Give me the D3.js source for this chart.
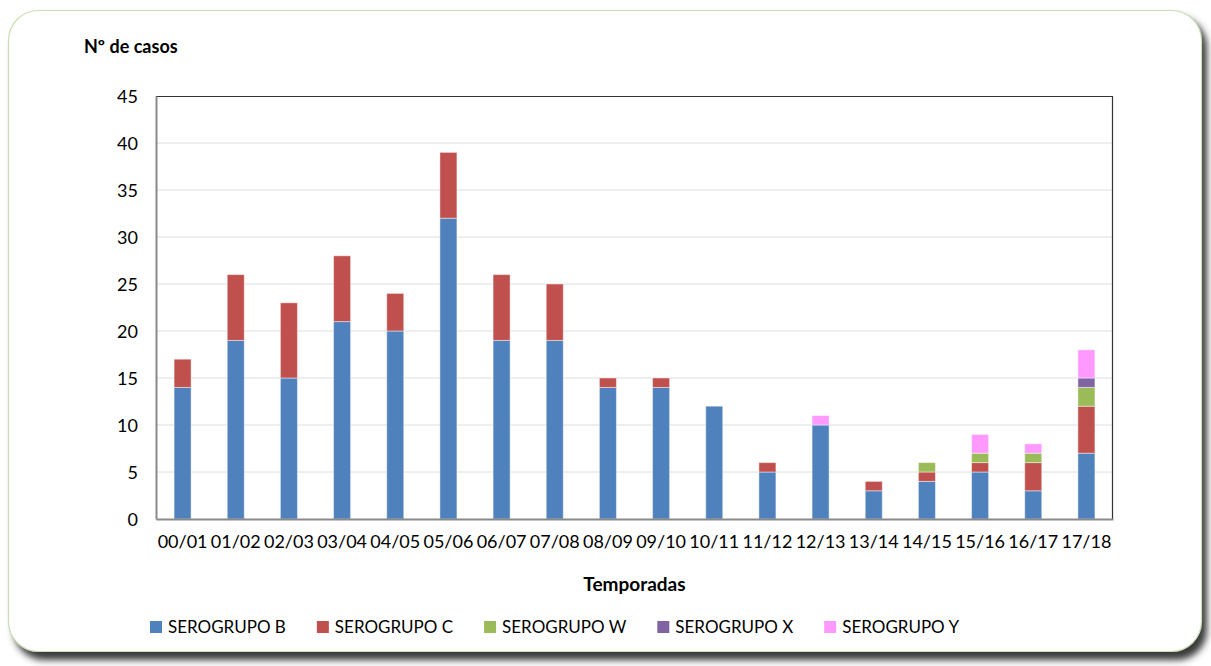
<!DOCTYPE html>
<html>
<head>
<meta charset="utf-8">
<script src="https://cdn.jsdelivr.net/npm/d3@7"></script>
<style>
  html, body { margin: 0; padding: 0; background: #fff; }
  svg { display: block; font-family: Lato, "Open Sans", sans-serif; }
  .grid line { stroke: #dedede; stroke-width: 1; }
  .axis text { fill: #000; font-size: 18px; font-family: Lato, "Open Sans", sans-serif; }
</style>
</head>
<body>
<svg id="chart" width="1211" height="666"></svg>
<script>
// seasons on the x axis
const seasons = ["00/01", "01/02", "02/03", "03/04", "04/05", "05/06", "06/07", "07/08", "08/09",
  "09/10", "10/11", "11/12", "12/13", "13/14", "14/15", "15/16", "16/17", "17/18"];

// cases per serogroup and season
const serogrupoB = [14, 19, 15, 21, 20, 32, 19, 19, 14, 14, 12, 5, 10, 3, 4, 5, 3, 7];
const serogrupoC = [3, 7, 8, 7, 4, 7, 7, 6, 1, 1, 0, 1, 0, 1, 1, 1, 3, 5];
const serogrupoW = [0, 0, 0, 0, 0, 0, 0, 0, 0, 0, 0, 0, 0, 0, 1, 1, 1, 2];
const serogrupoX = [0, 0, 0, 0, 0, 0, 0, 0, 0, 0, 0, 0, 0, 0, 0, 0, 0, 1];
const serogrupoY = [0, 0, 0, 0, 0, 0, 0, 0, 0, 0, 0, 0, 1, 0, 0, 2, 1, 3];

const seriesNames = ["SEROGRUPO B", "SEROGRUPO C", "SEROGRUPO W", "SEROGRUPO X", "SEROGRUPO Y"];
const seriesColors = ["#4f81bd", "#c0504d", "#9bbb59", "#8064a2", "#ff99ff"];
const yTicks = [0, 5, 10, 15, 20, 25, 30, 35, 40, 45];

const svg = d3.select("#chart");
const margin = { top: 96, left: 156, right: 98, bottom: 147 };
const width = 1211 - margin.left - margin.right;
const height = 666 - margin.top - margin.bottom;

// rounded frame with a shadow to the bottom right
const defs = svg.append("defs");
defs.append("filter").attr("id", "blur")
  .attr("x", "-5%").attr("y", "-5%").attr("width", "110%").attr("height", "115%")
  .append("feGaussianBlur").attr("stdDeviation", 3.5);

svg.append("rect")
  .attr("x", 14).attr("y", 17).attr("width", 1193).attr("height", 643)
  .attr("rx", 30).attr("fill", "#3a3a3a").attr("filter", "url(#blur)");
svg.append("rect")
  .attr("x", 8.5).attr("y", 10.5).attr("width", 1193).attr("height", 641)
  .attr("rx", 30).attr("fill", "#fff")
  .attr("stroke", "#c9deb4").attr("stroke-width", 1.2);

// build a table for the stack layout
const table = seasons.map((s, i) => ({
  season: s,
  "SEROGRUPO B": serogrupoB[i],
  "SEROGRUPO C": serogrupoC[i],
  "SEROGRUPO W": serogrupoW[i],
  "SEROGRUPO X": serogrupoX[i],
  "SEROGRUPO Y": serogrupoY[i]
}));
const stacked = d3.stack().keys(seriesNames)(table);

const xScale = d3.scaleBand().domain(seasons).range([0, width]).paddingInner(0.68).paddingOuter(0.34);
const yScale = d3.scaleLinear().domain([0, 45]).range([height, 0]);
const color = d3.scaleOrdinal().domain(seriesNames).range(seriesColors);

const chart = svg.append("g")
  .attr("transform", `translate(${margin.left}, ${margin.top})`);

// horizontal gridlines
chart.append("g")
  .attr("class", "grid")
  .selectAll("line")
  .data(yTicks.filter(d => d > 0 && d < 45))
  .enter()
  .append("line")
  .attr("x1", 0).attr("x2", width)
  .attr("y1", d => yScale(d)).attr("y2", d => yScale(d));

// bars
chart.selectAll(".serie")
  .data(stacked)
  .enter()
  .append("g")
  .attr("class", "serie")
  .attr("fill", d => color(d.key))
  .selectAll("rect")
  .data(d => d.filter(p => p[1] - p[0] > 0))
  .enter()
  .append("rect")
  .attr("x", d => xScale(d.data.season))
  .attr("width", xScale.bandwidth())
  .attr("y", d => yScale(d[1]))
  .attr("height", d => yScale(d[0]) - yScale(d[1]))
  .attr("stroke", "#fff")
  .attr("stroke-opacity", 0.45)
  .attr("stroke-width", 1);

// top and right border of plot area
chart.append("path")
  .attr("d", `M0,0.5H${width - 0.5}V${height}`)
  .attr("fill", "none").attr("stroke", "#333").attr("stroke-width", 1.2);

// axes
const yAxis = chart.append("g")
  .attr("class", "axis y")
  .call(d3.axisLeft(yScale).tickValues(yTicks).tickSize(0).tickPadding(18));
yAxis.select(".domain").attr("stroke", "#8a8a8a").attr("stroke-width", 2);
yAxis.selectAll("text").attr("dy", "0.36em");

const xAxis = chart.append("g")
  .attr("class", "axis x")
  .attr("transform", `translate(0, ${height})`)
  .call(d3.axisBottom(xScale).tickSize(0).tickPadding(16));
xAxis.select(".domain").attr("stroke", "#8a8a8a").attr("stroke-width", 2);

// axis titles
svg.append("text")
  .attr("x", 84).attr("y", 53)
  .attr("font-size", "18px").attr("font-weight", "bold")
  .text("Nº de casos");

svg.append("text")
  .attr("x", margin.left + width / 2).attr("y", 591)
  .attr("text-anchor", "middle")
  .attr("font-size", "19px").attr("font-weight", "bold")
  .text("Temporadas");

// legend
const legend = svg.append("g").attr("transform", "translate(150, 621)");
let lx = 0;
seriesNames.forEach((name, i) => {
  const item = legend.append("g").attr("transform", `translate(${lx}, 0)`);
  item.append("rect")
    .attr("width", 12).attr("height", 12)
    .attr("fill", color(name));
  const t = item.append("text")
    .attr("x", 18).attr("y", 12)
    .attr("font-size", "17px")
    .text(name);
  lx += 18 + t.node().getComputedTextLength() + 31;
});
</script>
</body>
</html>
